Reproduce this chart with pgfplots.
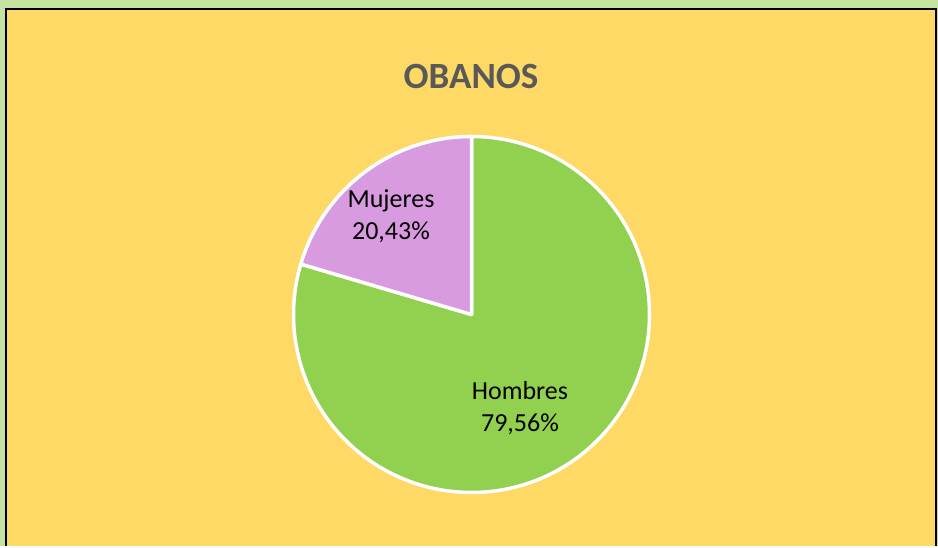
\documentclass[border=0pt]{standalone}
\usepackage{fontspec}
\setmainfont{Carlito}
\usepackage{pgfplots}
\usepackage{pgfplotstable}
\pgfplotsset{compat=1.18}

\definecolor{bggreen}{HTML}{C5E3A0}
\definecolor{bgyellow}{HTML}{FFD966}
\definecolor{piegreen}{HTML}{92D050}
\definecolor{piepurple}{HTML}{D99BDF}
\definecolor{titlegray}{HTML}{595959}

% share of each group (%)
\pgfplotstableread{
label value
Hombres 79.56
Mujeres 20.43
}\piedata

\begin{document}
\begin{tikzpicture}
\pgfplotstablegetelem{0}{value}\of\piedata \let\vh\pgfplotsretval
\pgfplotstablegetelem{1}{value}\of\piedata \let\vm\pgfplotsretval
\pgfmathsetmacro{\total}{\vh+\vm}
\pgfmathsetmacro{\split}{90-360*(\vh/\total)}
\begin{axis}[
    scale only axis,
    width=938pt, height=546pt,
    xmin=0, xmax=938, ymin=0, ymax=546,
    hide axis, clip=false
]
% background and frame
\fill[bggreen] (axis cs:0,0) rectangle (axis cs:938,546);
\fill[bgyellow] (axis cs:6,0) rectangle (axis cs:936,537);
\draw[black, line width=2.8pt] (axis cs:6,0) -- (axis cs:6,537) -- (axis cs:936,537) -- (axis cs:936,0);

% pie slices
\filldraw[fill=piegreen, draw=white, line width=3.5pt, line join=round]
  (axis cs:471.5,231.5) -- ++(90:178pt) arc[start angle=90, end angle=\split, radius=178pt] -- cycle;
\filldraw[fill=piepurple, draw=white, line width=3.5pt, line join=round]
  (axis cs:471.5,231.5) -- ++(\split:178pt) arc[start angle=\split, end angle=-270, radius=178pt] -- cycle;

% labels
\node[font=\fontsize{37}{42}\selectfont\bfseries, text=titlegray] at (axis cs:471,469) {OBANOS};
\node[align=center, font=\fontsize{26}{32}\selectfont] at (axis cs:391,330) {Mujeres\\20,43\%};
\node[align=center, font=\fontsize{26}{32}\selectfont] at (axis cs:520,138) {Hombres\\79,56\%};
\end{axis}
\end{tikzpicture}
\end{document}
